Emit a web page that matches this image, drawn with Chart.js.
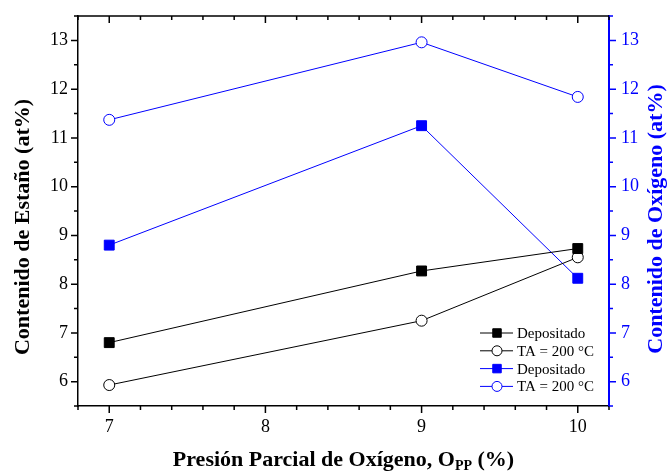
<!DOCTYPE html>
<html lang="es">
<head>
<meta charset="UTF-8">
<title>Contenido de Estaño y Oxígeno</title>
<script src="https://cdn.jsdelivr.net/npm/chart.js"></script>
<style>
  body { margin: 0; background: #fff; }
  #wrap { width: 668px; height: 474px; }
</style>
</head>
<body>
<div id="wrap"><canvas id="chart"></canvas></div>
<script>
// Presión parcial de oxígeno (%)
const presion = [7, 9, 10];
// Contenido de estaño (at%), eje izquierdo
const estanoDepositado = [6.80, 8.27, 8.73];
const estanoTA200 = [5.93, 7.25, 8.55];
// Contenido de oxígeno (at%), eje derecho
const oxigenoDepositado = [8.80, 11.25, 8.12];
const oxigenoTA200 = [11.37, 12.96, 11.84];

const xTickLabels = [7, 8, 9, 10];
const yTickLabels = [6, 7, 8, 9, 10, 11, 12, 13];

const SERIF = "'Liberation Serif', 'DejaVu Serif', serif";
const BLUE = '#0000ff';

function pts(xs, ys) {
    return xs.map((x, i) => ({x: x, y: ys[i]}));
}

function stepTicks(min, max, step) {
    const out = [];
    const n = Math.round((max - min) / step);
    for (let i = 0; i <= n; i++) {
        out.push({value: Math.round((min + i * step) * 100) / 100});
    }
    return out;
}

// tick marks: outward on bottom/left/right, inward on top
const tickMarks = {
    id: 'tickMarks',
    afterDraw(chart) {
        const ctx = chart.ctx;
        const a = chart.chartArea;
        const sx = chart.scales.x, sy = chart.scales.y, sy1 = chart.scales.y1;
        ctx.save();
        ctx.lineWidth = 1.5;
        ctx.strokeStyle = '#000';
        ctx.beginPath();
        ctx.moveTo(a.left, a.top);
        ctx.lineTo(a.right, a.top);
        sx.ticks.forEach(t => {
            const px = sx.getPixelForValue(t.value);
            const len = xTickLabels.includes(t.value) ? 7 : 4;
            ctx.moveTo(px, a.bottom);
            ctx.lineTo(px, a.bottom + len);
            ctx.moveTo(px, a.top);
            ctx.lineTo(px, a.top + len);
        });
        sy.ticks.forEach(t => {
            const py = sy.getPixelForValue(t.value);
            const len = yTickLabels.includes(t.value) ? 7 : 4;
            ctx.moveTo(a.left, py);
            ctx.lineTo(a.left - len, py);
        });
        ctx.stroke();
        ctx.strokeStyle = BLUE;
        ctx.beginPath();
        sy1.ticks.forEach(t => {
            const py = sy1.getPixelForValue(t.value);
            const len = yTickLabels.includes(t.value) ? 7 : 4;
            ctx.moveTo(a.right, py);
            ctx.lineTo(a.right + len, py);
        });
        ctx.stroke();
        ctx.restore();
    }
};

// axis titles (subscript + upward text on the right)
const axisTitles = {
    id: 'axisTitles',
    afterDraw(chart) {
        const ctx = chart.ctx;
        const a = chart.chartArea;
        ctx.save();
        ctx.textBaseline = 'middle';
        ctx.textAlign = 'center';
        ctx.font = 'bold 22px ' + SERIF;

        ctx.fillStyle = '#000';
        ctx.save();
        ctx.translate(23, 227);
        ctx.rotate(-Math.PI / 2);
        ctx.fillText('Contenido de Estaño (at%)', 0, 0);
        ctx.restore();

        ctx.fillStyle = BLUE;
        ctx.save();
        ctx.translate(656, 219);
        ctx.rotate(-Math.PI / 2);
        ctx.fillText('Contenido de Oxígeno (at%)', 0, 0);
        ctx.restore();

        // bottom title with subscript
        const parts = [
            ['Presión Parcial de Oxígeno, O', 22, 0],
            ['PP', 14, 4],
            [' (%)', 22, 0]
        ];
        ctx.fillStyle = '#000';
        ctx.textAlign = 'left';
        ctx.textBaseline = 'alphabetic';
        let total = 0;
        parts.forEach(p => {
            ctx.font = 'bold ' + p[1] + 'px ' + SERIF;
            total += ctx.measureText(p[0]).width;
        });
        let x = (a.left + a.right) / 2 - total / 2;
        const base = 466;
        parts.forEach(p => {
            ctx.font = 'bold ' + p[1] + 'px ' + SERIF;
            ctx.fillText(p[0], x, base + p[2]);
            x += ctx.measureText(p[0]).width;
        });
        ctx.restore();
    }
};

// legend inside the plot, bottom right
const insideLegend = {
    id: 'insideLegend',
    afterDraw(chart) {
        const ctx = chart.ctx;
        const a = chart.chartArea;
        const x0 = a.right - 129;
        const y0 = a.bottom - 73;
        ctx.save();
        chart.data.datasets.forEach((ds, i) => {
            const y = y0 + i * 17.8;
            ctx.strokeStyle = ds.borderColor;
            ctx.lineWidth = 1;
            ctx.beginPath();
            ctx.moveTo(x0, y);
            ctx.lineTo(x0 + 33, y);
            ctx.stroke();
            ctx.fillStyle = ds.pointBackgroundColor;
            ctx.strokeStyle = ds.borderColor;
            Chart.helpers.drawPoint(ctx, {
                pointStyle: ds.pointStyle,
                radius: ds.pointStyle === 'rect' ? 6 : 5,
                borderWidth: 1,
                rotation: 0
            }, x0 + 17, y);
            ctx.fillStyle = '#000';
            ctx.font = '15px ' + SERIF;
            ctx.textBaseline = 'middle';
            ctx.textAlign = 'left';
            ctx.fillText(ds.label, x0 + 37, y + 1);
        });
        ctx.restore();
    }
};

const ctx = document.getElementById('chart').getContext('2d');
new Chart(ctx, {
    type: 'line',
    data: {
        datasets: [{
            label: 'Depositado',
            data: pts(presion, estanoDepositado),
            yAxisID: 'y',
            borderColor: '#000',
            pointBackgroundColor: '#000',
            pointStyle: 'rect',
            pointRadius: 7,
            borderWidth: 1
        }, {
            label: 'TA = 200 °C',
            data: pts(presion, estanoTA200),
            yAxisID: 'y',
            borderColor: '#000',
            pointBackgroundColor: '#fff',
            pointStyle: 'circle',
            pointRadius: 5.5,
            borderWidth: 1
        }, {
            label: 'Depositado',
            data: pts(presion, oxigenoDepositado),
            yAxisID: 'y1',
            borderColor: BLUE,
            pointBackgroundColor: BLUE,
            pointStyle: 'rect',
            pointRadius: 7,
            borderWidth: 1
        }, {
            label: 'TA = 200 °C',
            data: pts(presion, oxigenoTA200),
            yAxisID: 'y1',
            borderColor: BLUE,
            pointBackgroundColor: '#fff',
            pointStyle: 'circle',
            pointRadius: 5.5,
            borderWidth: 1
        }]
    },
    options: {
        responsive: true,
        maintainAspectRatio: false,
        animation: false,
        events: [],
        layout: {padding: {top: 16, left: 0, right: 0, bottom: 0}},
        plugins: {
            legend: {display: false},
            tooltip: {enabled: false}
        },
        scales: {
            x: {
                type: 'linear',
                min: 6.8,
                max: 10.2,
                afterBuildTicks: s => { s.ticks = stepTicks(6.8, 10.2, 0.2); },
                afterFit: s => { s.height = 68; },
                grid: {display: false, drawTicks: true, tickLength: 7},
                border: {display: true, color: '#000', width: 1.5},
                ticks: {
                    autoSkip: false,
                    maxRotation: 0,
                    padding: 3,
                    color: '#000',
                    font: {family: SERIF, size: 18},
                    callback: v => xTickLabels.includes(v) ? String(v) : ''
                }
            },
            y: {
                position: 'left',
                min: 5.5,
                max: 13.5,
                afterBuildTicks: s => { s.ticks = stepTicks(5.5, 13.5, 0.5); },
                afterFit: s => { s.width = 78; },
                grid: {display: false, drawTicks: true, tickLength: 7},
                border: {display: true, color: '#000', width: 1.5},
                ticks: {
                    autoSkip: false,
                    padding: 3,
                    color: '#000',
                    font: {family: SERIF, size: 18},
                    callback: v => yTickLabels.includes(v) ? String(v) : ''
                }
            },
            y1: {
                position: 'right',
                min: 5.5,
                max: 13.5,
                afterBuildTicks: s => { s.ticks = stepTicks(5.5, 13.5, 0.5); },
                afterFit: s => { s.width = 59; },
                grid: {display: false, drawTicks: true, tickLength: 7},
                border: {display: true, color: BLUE, width: 2},
                ticks: {
                    autoSkip: false,
                    padding: 5,
                    color: BLUE,
                    font: {family: SERIF, size: 18},
                    callback: v => yTickLabels.includes(v) ? String(v) : ''
                }
            }
        }
    },
    plugins: [tickMarks, axisTitles, insideLegend]
});
</script>
</body>
</html>
